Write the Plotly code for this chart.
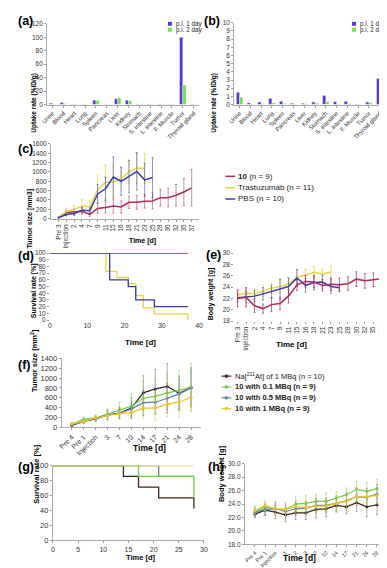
import plotly.graph_objects as go

W, H = 387, 568

# ---------------- data ----------------
organs = ["Urine", "Blood", "Heart", "Lung", "Spleen", "Pancreas", "Liver", "Kidney",
          "Stomach", "S. intestine", "L. intestine", "F. Muscle", "Tumor", "Thyroid gland"]
a_day1 = [2.0, 3.0, 0.6, 0.6, 6.5, 0.5, 8.5, 6.5, 0.6, 0.6, 0.8, 0.3, 100, 0.8]
a_day2 = [0.5, 1.0, 0.5, 0.5, 6.0, 0.3, 10.0, 5.5, 0.5, 0.5, 0.5, 0.2, 29, 0.3]
b_day1 = [1.5, 0.2, 0.3, 0.75, 0.4, 0.15, 0.15, 0.3, 1.1, 0.35, 0.4, 0.05, 0.3, 3.2]
b_day2 = [0.9, 0.05, 0.1, 0.2, 0.15, 0.05, 0.1, 0.15, 0.35, 0.1, 0.1, 0.02, 0.2, 1.7]
bar_names = ["p.i. 1 day", "p.i. 2 day"]

days_c = ["Pre 3", "Injection", "2", "4", "7", "9", "11", "15", "16", "18", "21", "23",
          "25", "28", "30", "32", "35", "37"]
c_10 = [20, 130, 150, 160, 90, 220, 240, 270, 250, 350, 350, 375, 380, 450, 450, 500, 570, 660]
c_10_err = [10, 40, 60, 60, 40, 100, 120, 150, 130, 130, 150, 150, 170, 180, 200, 230, 290, 390]
c_tra = [30, 150, 200, 270, 250, 620, 780, 780, 850, 1000, 1080, 1080]
c_tra_err = [10, 60, 80, 140, 130, 330, 370, 350, 250, 250, 330, 320]
c_pbs = [20, 90, 110, 180, 170, 530, 640, 890, 800, 900, 1010, 830, 880]
c_pbs_err = [10, 30, 40, 60, 60, 200, 250, 430, 300, 350, 400, 350, 430]
c_names = ["<b>10</b> (n = 9)", "Trastuzumab (n = 11)", "PBS (n = 10)"]

d_10_t = [0, 37]
d_10_s = [100, 100]
d_tra_t = [0, 15, 18, 21, 23, 25, 28, 37]
d_tra_s = [100, 72.7, 63.6, 54.5, 36.4, 18.2, 9.1, 0]
d_pbs_t = [0, 16, 21, 23, 28, 37]
d_pbs_s = [100, 60, 50, 30, 20, 20]

e_10 = [22.0, 22.2, 20.7, 20.2, 20.9, 21.1, 22.4, 24.4, 25.0, 24.9, 24.3, 24.5, 24.4, 24.6,
        25.4, 25.1, 25.3, 25.5]
e_10_err = [1.5, 1.7, 1.2, 0.8, 1.2, 1.1, 1.2, 1.0, 1.0, 1.0, 1.0, 1.1, 1.2, 1.2, 1.3, 1.3, 1.2, 1.3]
e_tra = [22.6, 22.9, 22.8, 23.3, 23.8, 24.1, 24.5, 25.8, 26.1, 26.6, 26.3, 26.6]
e_tra_err = [0.8, 0.8, 0.9, 1.0, 0.9, 1.2, 1.2, 1.2, 1.0, 1.0, 0.9, 1.1]
e_pbs = [22.1, 22.3, 22.4, 22.8, 23.2, 23.6, 24.1, 25.6, 24.3, 24.8, 24.9, 24.1, 23.9]
e_pbs_err = [0.8, 1.0, 1.0, 1.1, 1.1, 1.8, 1.5, 1.5, 1.2, 1.3, 1.2, 1.2, 0.5]

days_f = ["Pre 4", "Pre 1", "Injection", "3", "7", "10", "14", "17", "21", "24", "28"]
f_na = [40, 120, 170, 250, 290, 390, 700, 780, 830, 690, 810]
f_na_err = [20, 40, 50, 100, 120, 200, 350, 400, 470, 350, 400]
f_01 = [60, 160, 190, 270, 360, 430, 590, 630, 700, 750, 820]
f_01_err = [30, 50, 60, 120, 150, 250, 350, 350, 400, 400, 480]
f_05 = [50, 120, 180, 250, 290, 370, 500, 510, 590, 680, 800]
f_05_err = [20, 40, 50, 80, 100, 150, 250, 250, 300, 300, 350]
f_1 = [70, 120, 190, 240, 280, 300, 390, 390, 470, 510, 610]
f_1_err = [20, 40, 50, 80, 100, 120, 200, 250, 250, 300, 300]
f_names = ["Na[<sup>211</sup>At] of 1 MBq (n = 10)", "<b>10 with 0.1 MBq (n = 9)</b>",
           "<b>10 with 0.5 MBq (n = 9)</b>", "<b>10 with 1 MBq (n = 9)</b>"]

g_na_t = [0, 14, 17, 21, 28]
g_na_s = [100, 85.7, 71.4, 57.1, 42.9]
g_01_t = [0, 17, 28]
g_01_s = [100, 85.7, 57.1]
g_05_t = [0, 21, 28]
g_05_s = [100, 85.7, 85.7]
g_1_t = [0, 28]
g_1_s = [100, 100]

days_h = ["Pre 4", "Pre 1", "Injection", "1", "2", "3", "7", "10", "14", "17", "21", "24", "28"]
h_na = [22.5, 23.1, 22.8, 22.4, 22.7, 22.7, 23.2, 23.3, 23.8, 23.6, 24.2, 23.6, 23.9]
h_na_err = [0.5, 0.8, 1.0, 1.0, 1.0, 1.0, 1.3, 1.2, 1.0, 1.0, 1.3, 1.5, 1.5]
h_01 = [23.0, 23.5, 23.3, 23.2, 24.0, 24.1, 24.4, 24.4, 24.9, 25.4, 26.2, 25.9, 26.3]
h_01_err = [0.7, 0.7, 1.0, 1.0, 1.2, 1.2, 1.1, 1.3, 1.0, 1.0, 1.2, 1.3, 1.4]
h_05 = [22.8, 23.2, 23.3, 22.9, 23.3, 23.4, 23.8, 23.8, 24.1, 24.5, 25.1, 25.0, 25.5]
h_05_err = [0.6, 0.8, 1.0, 1.0, 1.0, 1.0, 1.1, 1.1, 1.1, 1.2, 1.3, 1.3, 1.4]
h_1 = [23.0, 23.8, 23.3, 23.2, 23.6, 23.5, 23.7, 23.7, 24.1, 24.4, 25.1, 25.1, 25.3]
h_1_err = [0.6, 0.8, 1.0, 1.0, 1.0, 1.0, 1.1, 1.1, 1.1, 1.2, 1.3, 1.3, 1.3]

# colours
PURPLE, LGREEN = "#5b33d6", "#6ee04a"
C10, CTRA, CPBS = "#b0275a", "#e6d443", "#3a3aa8"
CNA, C01, C05, C1 = "#3b2418", "#6fcf4a", "#5b86a6", "#f0c020"
FONT = "Liberation Sans, Arial, sans-serif"


def xd(left, right):
    return [left / W, right / W]


def yd(top, bottom):
    return [1 - bottom / H, 1 - top / H]


def err(vals, color):
    return dict(type="data", array=vals, color=color, thickness=1, width=1)


fig = go.Figure()

# (a) and (b) bars
for vals, col, xa, ya in [(a_day1, PURPLE, "x", "y"), (a_day2, LGREEN, "x", "y"),
                          (b_day1, PURPLE, "x2", "y2"), (b_day2, LGREEN, "x2", "y2")]:
    fig.add_trace(go.Bar(x=organs, y=vals, marker_color=col, showlegend=False,
                         xaxis=xa, yaxis=ya))

# (c) tumour size
for vals, e, col, ecol in [
        (c_10, c_10_err, C10, "rgba(176,39,90,0.55)"),
        (c_tra, c_tra_err, CTRA, "rgba(230,212,67,0.75)"),
        (c_pbs, c_pbs_err, CPBS, "rgba(58,58,168,0.55)")]:
    fig.add_trace(go.Scatter(x=days_c[:len(vals)], y=vals, mode="lines", showlegend=False,
                             line=dict(color=col, width=1.5), error_y=err(e, ecol),
                             xaxis="x3", yaxis="y3"))

# (d) survival
for t, s, col in [(d_10_t, d_10_s, C10), (d_tra_t, d_tra_s, CTRA), (d_pbs_t, d_pbs_s, CPBS)]:
    fig.add_trace(go.Scatter(x=t, y=s, mode="lines", line=dict(color=col, width=1.3, shape="hv"),
                             showlegend=False, xaxis="x4", yaxis="y4"))

# (e) body weight
for vals, e, col, ecol in [
        (e_tra, e_tra_err, CTRA, "rgba(230,212,67,0.8)"),
        (e_pbs, e_pbs_err, CPBS, "rgba(58,58,168,0.55)"),
        (e_10, e_10_err, C10, "rgba(176,39,90,0.7)")]:
    fig.add_trace(go.Scatter(x=days_c[:len(vals)], y=vals, mode="lines",
                             line=dict(color=col, width=1.5), error_y=err(e, ecol),
                             showlegend=False, xaxis="x5", yaxis="y5"))

# (f) tumour size, dose study
for vals, e, col, ecol in [
        (f_na, f_na_err, CNA, "rgba(90,70,60,0.45)"),
        (f_01, f_01_err, C01, "rgba(111,207,74,0.5)"),
        (f_05, f_05_err, C05, "rgba(91,134,166,0.45)"),
        (f_1, f_1_err, C1, "rgba(240,192,32,0.5)")]:
    fig.add_trace(go.Scatter(x=days_f, y=vals, mode="lines+markers", showlegend=False,
                             line=dict(color=col, width=1.2), marker=dict(size=3, color=col),
                             error_y=err(e, ecol), xaxis="x6", yaxis="y6"))

# (g) survival, dose study
for t, s, col in [(g_na_t, g_na_s, CNA), (g_05_t, g_05_s, C05), (g_01_t, g_01_s, C01),
                  (g_1_t, g_1_s, C1)]:
    fig.add_trace(go.Scatter(x=t, y=s, mode="lines", line=dict(color=col, width=1.3, shape="hv"),
                             showlegend=False, xaxis="x7", yaxis="y7"))

# (h) body weight, dose study
for vals, e, col, ecol in [
        (h_na, h_na_err, CNA, "rgba(90,70,60,0.45)"),
        (h_01, h_01_err, C01, "rgba(111,207,74,0.5)"),
        (h_05, h_05_err, C05, "rgba(91,134,166,0.45)"),
        (h_1, h_1_err, C1, "rgba(240,192,32,0.5)")]:
    fig.add_trace(go.Scatter(x=days_h, y=vals, mode="lines+markers",
                             line=dict(color=col, width=1.2), marker=dict(size=3, color=col),
                             error_y=err(e, ecol), showlegend=False, xaxis="x8", yaxis="y8"))

ax_common = dict(showgrid=False, zeroline=False, ticks="outside", ticklen=2,
                 tickcolor="#999", linecolor="#aaa")


def cat_x(cats, dom, anchor, angle, size=7, line=True, rng=None):
    d = dict(ax_common, domain=dom, anchor=anchor, type="category", tickangle=angle,
             tickmode="array", tickvals=cats, ticktext=cats, categoryorder="array",
             categoryarray=cats, showline=line, tickfont=dict(size=size, color="#333", family=FONT))
    if rng:
        d["range"] = rng
    return d


def lin_y(dom, anchor, rng, dtick, size=7, line=True, fmt=None):
    d = dict(ax_common, domain=dom, anchor=anchor, range=rng, dtick=dtick, showline=line,
             tickfont=dict(size=size, color="#333", family=FONT))
    if fmt:
        d["tickformat"] = fmt
    return d


fig.update_layout(
    width=W, height=H, margin=dict(l=0, r=0, t=0, b=0),
    paper_bgcolor="white", plot_bgcolor="white", showlegend=False,
    font=dict(family=FONT, color="#222"),
    barmode="group", bargap=0.4, bargroupgap=0.0,
    xaxis=cat_x(organs, xd(34, 190), "y", -45, 6),
    yaxis=lin_y(yd(12, 94), "x", [0, 120], 20, 6.5),
    xaxis2=cat_x(organs, xd(226, 381), "y2", -45, 6),
    yaxis2=lin_y(yd(11, 94), "x2", [0, 10], 1, 6.5),
    xaxis3=cat_x(days_c, xd(38, 190), "y3", -90, 6.5),
    yaxis3=lin_y(yd(134, 210), "x3", [0, 1600], 200, 6.5),
    xaxis4=dict(ax_common, domain=xd(37, 190), anchor="y4", range=[0, 40], dtick=10,
                showline=False, ticks="", tickfont=dict(size=7, color="#333", family=FONT)),
    yaxis4=lin_y(yd(245, 313), "x4", [0, 100], 10, 6.5, line=False),
    xaxis5=cat_x(days_c, xd(226, 382), "y5", -90, 6.5, line=False, rng=[-0.4, 17.5]),
    yaxis5=lin_y(yd(245, 314), "x5", [18, 30], 2, 6.5, line=False),
    xaxis6=cat_x(days_f, xd(49, 192), "y6", -45, 7),
    yaxis6=lin_y(yd(352, 422), "x6", [0, 1400], 200, 7.5),
    xaxis7=dict(ax_common, domain=xd(40, 195), anchor="y7", range=[0, 30], dtick=5,
                showline=True, tickfont=dict(size=7, color="#333", family=FONT)),
    yaxis7=lin_y(yd(461, 537), "x7", [0, 100], 20, 7.5),
    xaxis8=cat_x(days_h, xd(237, 383), "y8", -45, 5.5),
    yaxis8=lin_y(yd(459, 541), "x8", [18, 30], 2, 6.5, fmt=".1f"),
)


def px(x, y):
    return x / W, 1 - y / H


ann = []
shapes = []


def text(txt, x, y, size, **kw):
    xx, yy = px(x, y)
    a = dict(text=txt, x=xx, y=yy, xref="paper", yref="paper", showarrow=False,
             font=dict(size=size, family=FONT, color=kw.pop("color", "black")))
    a.update(kw)
    ann.append(a)


# panel letters
for txt, x, y in [("(a)", 2, 9), ("(b)", 193, 9), ("(c)", 2, 139), ("(d)", 2, 248),
                  ("(e)", 195, 247), ("(f)", 2, 359), ("(g)", 2, 462), ("(h)", 197, 462)]:
    text("<b>%s</b>" % txt, x, y, 12.5, xanchor="left", yanchor="middle")

# y-axis titles
for txt, x, y, s in [("Uptake rate (%ID/g)", 14, 60, 6.5), ("Uptake rate (%ID/g)", 205, 60, 6.5),
                     ("Tumor size [mm3]", 10, 178, 7), ("Survival rate [%]", 14, 283, 7),
                     ("Body weight [g]", 203, 286, 7), ("Tumor size [mm<sup>2</sup>]", 14, 388, 7.5),
                     ("Survival rate [%]", 16, 502, 7.5), ("Body weight [g]", 213, 500, 7.5)]:
    text("<b>%s</b>" % txt, x, y, s, textangle=-90)

# x-axis titles
for x, y, s in [(116, 233, 7), (112, 336, 8), (303, 338, 8), (120, 450, 8.5),
                (113, 561, 7.5), (312, 562, 8.5)]:
    text("<b>Time [d]</b>", x, y, s)

# legends (a) and (b)
for lx in [158, 347]:
    for i, (nm, col) in enumerate(zip(bar_names, [PURPLE, LGREEN])):
        y = 12 + 6 * i
        x0, y0 = px(lx, y - 2)
        x1, y1 = px(lx + 4, y + 2)
        shapes.append(dict(type="rect", xref="paper", yref="paper", x0=x0, x1=x1, y0=y0, y1=y1,
                           fillcolor=col, line=dict(width=0)))
        text(nm, lx + 6, y, 6.3, xanchor="left", yanchor="middle", color="#222")

# legend (c)
for i, (nm, col) in enumerate(zip(c_names, [C10, CTRA, CPBS])):
    y = 167 + 11.5 * i
    x0, yy = px(217, y)
    x1, _ = px(227, y)
    shapes.append(dict(type="line", xref="paper", yref="paper", x0=x0, x1=x1, y0=yy, y1=yy,
                       line=dict(color=col, width=1.5)))
    text(nm, 228, y, 8, xanchor="left", yanchor="middle", color="#222")

# legend (f)
for i, (nm, col) in enumerate(zip(f_names, [CNA, C01, C05, C1])):
    y = 370 + 11 * i
    x0, yy = px(213, y)
    x1, _ = px(223, y)
    shapes.append(dict(type="line", xref="paper", yref="paper", x0=x0, x1=x1, y0=yy, y1=yy,
                       line=dict(color=col, width=1.2)))
    cx0, cy0 = px(216.5, y - 1.5)
    cx1, cy1 = px(219.5, y + 1.5)
    shapes.append(dict(type="rect", xref="paper", yref="paper", x0=cx0, x1=cx1, y0=cy0, y1=cy1,
                       fillcolor=col, line=dict(width=0)))
    text(nm, 225, y, 7.5, xanchor="left", yanchor="middle", color="#222")

fig.update_layout(annotations=ann, shapes=shapes)

fig.write_html("out.html")
